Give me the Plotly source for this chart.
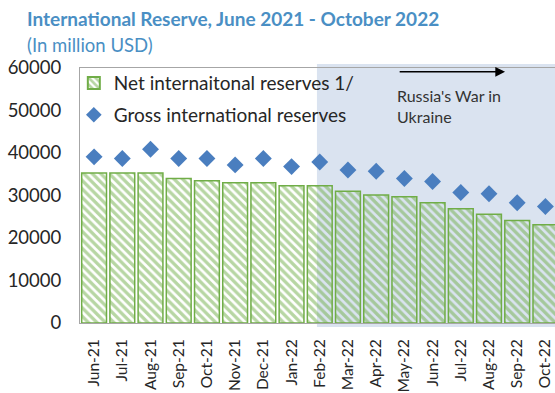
import plotly.graph_objects as go

months = ["Jun-21", "Jul-21", "Aug-21", "Sep-21", "Oct-21", "Nov-21", "Dec-21", "Jan-22",
          "Feb-22", "Mar-22", "Apr-22", "May-22", "Jun-22", "Jul-22", "Aug-22", "Sep-22", "Oct-22"]
net_reserves = [35300, 35300, 35300, 34000, 33500, 33000, 33000, 32300,
                32300, 31000, 30100, 29700, 28300, 26900, 25600, 24100, 23100]
gross_reserves = [39100, 38700, 40900, 38700, 38700, 37200, 38700, 36800,
                  37900, 36000, 35700, 34000, 33300, 30700, 30400, 28300, 27400]
y_ticks = [0, 10000, 20000, 30000, 40000, 50000, 60000]

FONT = "Lato"
TXT = "#262626"
GREEN = "#70ad47"
BLUE = "#4a7ebf"
TITLE_C = "#4a8fc4"

fig = go.Figure()
fig.add_trace(go.Bar(
    x=list(range(len(months))), y=net_reserves, name="Net internaitonal reserves 1/",
    width=0.88, legendgroup="a",
    marker=dict(color="rgba(0,0,0,0)", line=dict(color=GREEN, width=1.5),
                pattern=dict(shape="\\", fgcolor=GREEN, size=6, solidity=0.55)),
))
fig.add_trace(go.Scatter(
    x=list(range(len(months))), y=gross_reserves, name="Gross international reserves",
    mode="markers", legendgroup="b",
    marker=dict(symbol="diamond", size=13, color=BLUE),
))

fig.add_shape(type="rect", xref="x", yref="paper", x0=7.9, x1=17, y0=-0.016, y1=1.016,
              fillcolor="#dae3f0", line=dict(width=0), layer="below")

fig.add_annotation(x=14.57, y=59100, ax=10.78, ay=59100, xref="x", yref="y", axref="x", ayref="y",
                   showarrow=True, arrowhead=2, arrowsize=1.3, arrowwidth=1.5, arrowcolor="black", text="")
fig.add_annotation(x=10.68, y=56300, xref="x", yref="y", xanchor="left", yanchor="top", align="left",
                   showarrow=False, text="Russia's War in<br>Ukraine",
                   font=dict(family=FONT, size=16, color="#333333"))

fig.add_annotation(x=-0.116, y=1.196, xref="paper", yref="paper", xanchor="left", yanchor="middle",
                   showarrow=False, text="<b>International Reserve, June 2021 - October 2022</b>",
                   font=dict(family=FONT, size=19, color=TITLE_C))
fig.add_annotation(x=-0.116, y=1.09, xref="paper", yref="paper", xanchor="left", yanchor="middle",
                   showarrow=False, text="(In million USD)",
                   font=dict(family=FONT, size=18.5, color=TITLE_C))

fig.update_layout(
    width=555, height=393,
    margin=dict(l=80, r=0, t=68, b=70, autoexpand=False),
    paper_bgcolor="white", plot_bgcolor="white",
    font=dict(family=FONT, size=18, color=TXT),
    bargap=0.12,
    legend=dict(x=-0.013, y=1.015, xanchor="left", yanchor="top", bgcolor="rgba(0,0,0,0)",
                traceorder="grouped", tracegroupgap=4, font=dict(size=19, color=TXT),
                itemwidth=30, itemsizing="constant"),
    showlegend=True,
)
fig.update_xaxes(range=[-0.5, 16.34], tickmode="array", tickvals=list(range(len(months))),
                 ticktext=months, tickangle=-90, showgrid=False, showline=True,
                 linecolor="#a6a6a6", linewidth=1, mirror=True, ticks="", automargin=False,
                 ticklabeloverflow="allow",
                 ticklabelstandoff=9, tickfont=dict(size=15.5, color=TXT))
fig.update_yaxes(range=[0, 60000], tickmode="array", tickvals=y_ticks,
                 ticktext=[str(v) for v in y_ticks], showgrid=False, showline=True,
                 linecolor="#a6a6a6", linewidth=1, ticks="", zeroline=False, automargin=False,
                 ticklabelstandoff=14, tickfont=dict(size=18.5, color=TXT))

fig.write_html("out.html")
